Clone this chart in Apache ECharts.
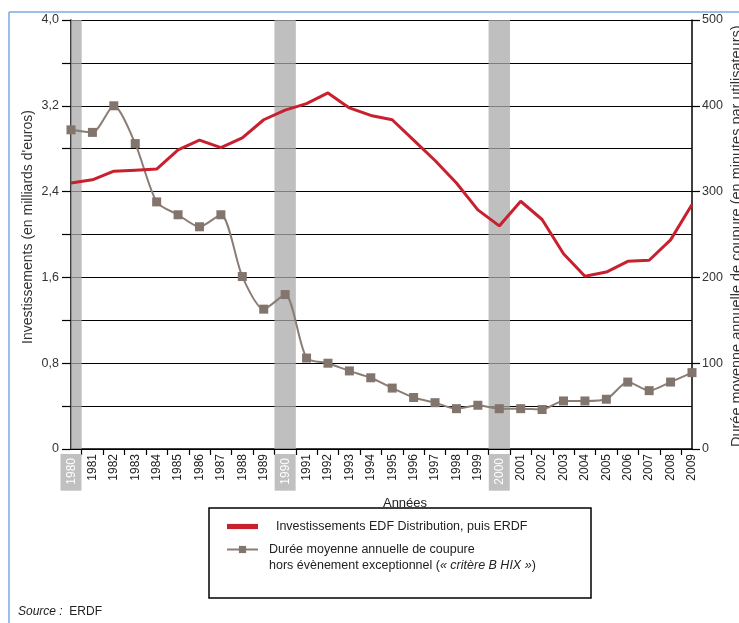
<!DOCTYPE html>
<html>
<head>
<meta charset="utf-8">
<script src="https://cdn.jsdelivr.net/npm/echarts@6/dist/echarts.min.js"></script>
<style>
  html, body { margin: 0; padding: 0; background: #fff; }
  #chart { width: 739px; height: 623px; }
</style>
</head>
<body>
<div id="chart"></div>
<script>
// années 1980 -> 2009
const years = [
  1980, 1981, 1982, 1983, 1984, 1985, 1986, 1987, 1988, 1989,
  1990, 1991, 1992, 1993, 1994, 1995, 1996, 1997, 1998, 1999,
  2000, 2001, 2002, 2003, 2004, 2005, 2006, 2007, 2008, 2009
];
// investissements (milliards d'euros), axe de gauche
const investissements = [
  2.48, 2.51, 2.59, 2.60, 2.61, 2.79, 2.88, 2.81, 2.90, 3.07,
  3.16, 3.22, 3.32, 3.18, 3.11, 3.07, 2.88, 2.69, 2.48, 2.23,
  2.08, 2.31, 2.14, 1.82, 1.61, 1.65, 1.75, 1.76, 1.95, 2.28
];
// durée moyenne de coupure (minutes), axe de droite
const dureeCoupure = [
  372, 369, 400, 356, 288, 273, 259, 273, 201, 163,
  180, 106, 100, 91, 83, 71, 60, 54, 47, 51,
  47, 47, 46, 56, 56, 58, 78, 68, 78, 89
];
const highlightYears = [1980, 1990, 2000];
const leftTicks = [0, 0.8, 1.6, 2.4, 3.2, 4.0];
const rightTicks = [0, 100, 200, 300, 400, 500];

const serieInvest = "Investissements EDF Distribution, puis ERDF";
const serieCoupure = "Durée moyenne annuelle de coupure";

const FONT = "Liberation Sans";

const bandData = highlightYears.map((y) => [
  { xAxis: Math.max(years[0], y - 0.5) },
  { xAxis: y + 0.5 }
]);

const chart = echarts.init(document.getElementById("chart"));

chart.setOption({
  animation: false,
  textStyle: { fontFamily: FONT },
  grid: { left: 71, right: 47, top: 20, bottom: 174 },
  xAxis: {
    type: "value",
    min: years[0],
    max: years[years.length - 1],
    axisLine: { lineStyle: { color: "#000", width: 1.5 } },
    splitLine: { show: false },
    axisTick: {
      customValues: years.slice(0, -1).map((y) => y + 0.5),
      length: 6,
      lineStyle: { color: "#000", width: 1.2 }
    },
    axisLabel: {
      customValues: years,
      rotate: 90,
      margin: 5,
      fontSize: 12,
      color: "#222",
      formatter: (v) => (highlightYears.includes(v) ? `{hl|${v}}` : `${v}`),
      rich: {
        hl: {
          backgroundColor: "#c0c0c0",
          color: "#fff",
          fontSize: 12,
          padding: [5, 4, 4, 6]
        }
      }
    }
  },
  yAxis: [
    {
      type: "value",
      min: 0,
      max: 4,
      interval: 0.4,
      axisLine: { show: true, lineStyle: { color: "#000", width: 1.5 } },
      axisTick: { show: true, length: 9, lineStyle: { color: "#000", width: 1.2 } },
      splitLine: { lineStyle: { color: "#000", width: 1.2 } },
      axisLabel: {
        customValues: leftTicks,
        margin: 12,
        fontSize: 12.5,
        color: "#333",
        formatter: (v) => (v === 0 ? "0" : v.toFixed(1).replace(".", ","))
      }
    },
    {
      type: "value",
      min: 0,
      max: 500,
      interval: 50,
      position: "right",
      axisLine: { show: true, lineStyle: { color: "#000", width: 1.5 } },
      axisTick: {
        show: true,
        customValues: rightTicks,
        length: 8,
        lineStyle: { color: "#000", width: 1.2 }
      },
      splitLine: { show: false },
      axisLabel: {
        customValues: rightTicks,
        margin: 10,
        fontSize: 12.5,
        color: "#333"
      }
    }
  ],
  legend: {
    orient: "vertical",
    left: 221,
    top: 515,
    itemWidth: 31,
    itemHeight: 9,
    itemGap: 10,
    data: [
      { name: serieInvest, icon: "path://M0,0 L30,0 L30,5 L0,5 Z" },
      { name: serieCoupure }
    ],
    textStyle: { fontSize: 12.5, color: "#222", padding: [0, 0, 0, 6] },
    formatter: (name) => (name === serieInvest ? `  ${name}` : name)
  },
  graphic: [
    { type: "line", shape: { x1: 9, y1: 12, x2: 739, y2: 12 }, style: { stroke: "#7ea8dc", lineWidth: 1.5 } },
    { type: "line", shape: { x1: 9, y1: 12, x2: 9, y2: 623 }, style: { stroke: "#7ea8dc", lineWidth: 1.5 } },
    {
      type: "rect",
      shape: { x: 209, y: 508, width: 382, height: 90 },
      style: { fill: "none", stroke: "#000", lineWidth: 1.5 },
      z: -1
    },
    {
      type: "text",
      x: 269,
      y: 566,
      style: {
        text: "hors évènement exceptionnel ({i|« critère B HIX »})",
        font: `12.5px '${FONT}'`,
        fill: "#222",
        verticalAlign: "middle",
        rich: { i: { fontStyle: "italic", fontSize: 12.5, fill: "#222" } }
      }
    },
    {
      type: "text",
      x: 405,
      y: 503,
      style: { text: "Années", font: `13px '${FONT}'`, fill: "#222", align: "center", verticalAlign: "middle" }
    },
    {
      type: "text",
      x: 28,
      y: 227,
      rotation: Math.PI / 2,
      style: {
        text: "Investissements (en milliards d'euros)",
        font: `14px '${FONT}'`,
        fill: "#333",
        align: "center",
        verticalAlign: "middle"
      }
    },
    {
      type: "text",
      x: 737,
      y: 447,
      rotation: Math.PI / 2,
      style: {
        text: "Durée moyenne annuelle de coupure (en minutes par utilisateurs)",
        font: `14.5px '${FONT}'`,
        fill: "#333",
        align: "left",
        verticalAlign: "middle"
      }
    },
    {
      type: "text",
      x: 18,
      y: 612,
      style: {
        text: "{s|Source :}  ERDF",
        font: `12px '${FONT}'`,
        fill: "#222",
        verticalAlign: "middle",
        rich: { s: { fontStyle: "italic", fontSize: 12, fill: "#222" } }
      }
    }
  ],
  series: [
    {
      name: "bandes",
      type: "line",
      data: [],
      silent: true,
      markArea: {
        silent: true,
        itemStyle: { color: "rgba(170, 170, 170, 0.75)" },
        data: bandData
      }
    },
    {
      name: serieInvest,
      type: "line",
      yAxisIndex: 0,
      data: years.map((y, i) => [y, investissements[i]]),
      symbol: "none",
      lineStyle: { color: "#c8202f", width: 3 },
      itemStyle: { color: "#c8202f" },
      z: 4
    },
    {
      name: serieCoupure,
      type: "line",
      yAxisIndex: 1,
      data: years.map((y, i) => [y, dureeCoupure[i]]),
      smooth: 0.25,
      symbol: "rect",
      symbolSize: 9,
      lineStyle: { color: "#8a7d75", width: 2 },
      itemStyle: { color: "#82756d" },
      z: 3
    }
  ]
});
</script>
</body>
</html>
